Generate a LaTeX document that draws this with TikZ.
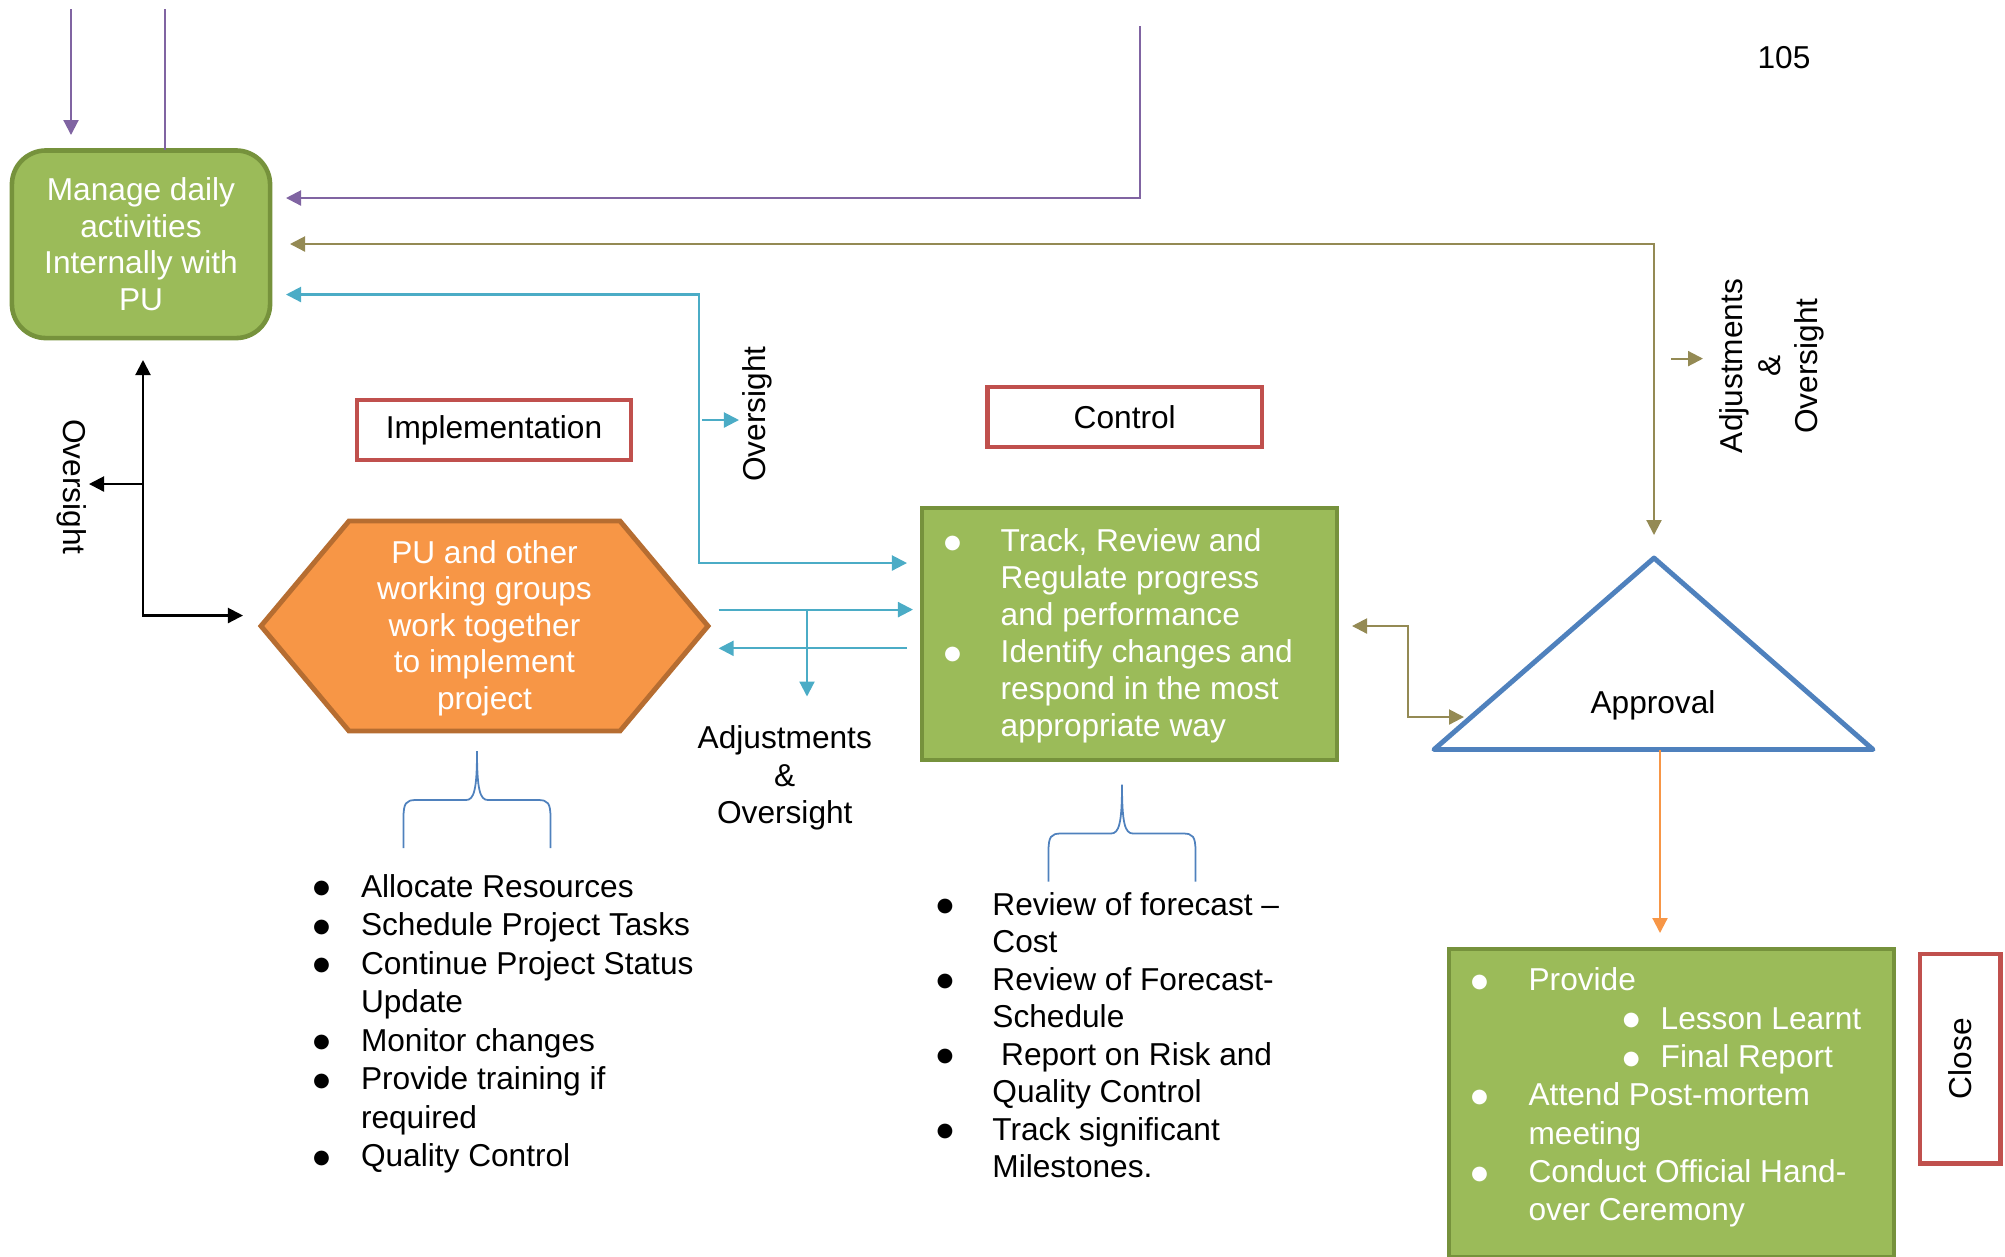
\documentclass[tikz,border=0pt]{standalone}
\usepackage{fontspec}
\setmainfont{Liberation Sans}
\newfontfamily\dotfont{DejaVu Sans}
\usetikzlibrary{arrows.meta}

\definecolor{gfill}{HTML}{9BBB59}
\definecolor{gline}{HTML}{76923C}
\definecolor{ofill}{HTML}{F79646}
\definecolor{oline}{HTML}{B66D31}
\definecolor{rline}{HTML}{C0504D}
\definecolor{bline}{HTML}{4F81BD}
\definecolor{cyanline}{HTML}{4BACC6}
\definecolor{purpline}{HTML}{8064A2}
\definecolor{oliveline}{HTML}{948A54}

% bullet hung to the left of the text column
\newlength\bulgap
\newcommand\bigdot{\raisebox{0.9pt}{\dotfont\fontsize{5.5}{5.5}\selectfont ●}}
\newcommand\lbul{\llap{\makebox[\bulgap][l]{\bigdot}}}
\newcommand\fsz[1]{\fontsize{9}{#1}\selectfont}

\begin{document}
\begin{tikzpicture}[x=0.01cm,y=-0.01cm,
  every node/.style={inner sep=0pt, outer sep=0pt},
  font=\fsz{10.4pt},
  >={Triangle[length=0.15cm,width=0.15cm]},
  conn/.style={line width=0.6pt},
  purp/.style={conn, draw=purpline},
  oliv/.style={conn, draw=oliveline},
  cyn/.style={conn, draw=cyanline},
  blk/.style={conn, draw=black},
  orng/.style={conn, draw=ofill},
  greenbox/.style={draw=gline, fill=gfill, line width=1.3pt, text=white},
  redbox/.style={draw=rline, fill=white, line width=1.3pt},
  hexshape/.style={draw=oline, fill=ofill, line width=1.4pt, line join=miter},
  tri/.style={draw=bline, line width=1.4pt, line join=round},
  listtext/.style={anchor=base west},
  curlybrace/.pic={
    \draw[bline, line width=0.5pt]
      (-73.5,97) -- (-73.5,67) .. controls (-73.5,52) and (-71,49) .. (-61,49)
      -- (-11,49) .. controls (-3,49) and (0,39) .. (0,0)
      .. controls (0,39) and (3,49) .. (11,49)
      -- (61,49) .. controls (71,49) and (73.5,52) .. (73.5,67) -- (73.5,97);
  }
]
\useasboundingbox (0,0) rectangle (2005,1256);

% ---------- shapes ----------
\node[greenbox, rounded corners=0.34cm, minimum width=2.58cm, minimum height=1.875cm, align=center]
  (manage) at (141,244.25) {Manage daily\\activities\\Internally with\\PU};

\node[redbox, minimum width=2.74cm, minimum height=0.60cm] (impl) at (494,430) {Implementation};
\node[redbox, minimum width=2.74cm, minimum height=0.60cm] (ctrl) at (1124.75,417) {Control};

\draw[hexshape] (261,626) -- (349,521) -- (620,521) -- (708,626) -- (620,731) -- (349,731) -- cycle;
\node[text=white, align=center] (hex) at (484.5,628) {PU and other\\working groups\\work together\\to implement\\project};

\node[greenbox, minimum width=4.15cm, minimum height=2.52cm] (track) at (1129.5,634) {};
\node[listtext, text=white, font=\fsz{10.5pt}] (tracktext) at (1000.7,551.7) {\setlength\bulgap{0.565cm}%
  \begin{tabular}[t]{@{}l@{}}
  \lbul Track, Review and\\
  Regulate progress\\
  and performance\\
  \lbul Identify changes and\\
  respond in the most\\
  appropriate way
  \end{tabular}};

\draw[tri] (1654,558) -- (1873,749.5) -- (1434,749.5) -- cycle;
\coordinate (apex) at (1654,558);
\coordinate (base) at (1660,749.5);
\node[anchor=base] (appr) at (1653,713) {Approval};

\node[greenbox, minimum width=4.45cm, minimum height=3.08cm] (final) at (1671.5,1103) {};
\node[listtext, text=white, font=\fsz{10.9pt}] (finaltext) at (1528.6,990.7) {\setlength\bulgap{0.574cm}%
  \begin{tabular}[t]{@{}l@{}}
  \lbul Provide\\
  \hspace*{1.32cm}{\setlength\bulgap{0.378cm}\lbul}Lesson Learnt\\
  \hspace*{1.32cm}{\setlength\bulgap{0.378cm}\lbul}Final Report\\
  \lbul Attend Post-mortem\\
  meeting\\
  \lbul Conduct Official Hand-\\
  over Ceremony
  \end{tabular}};

\node[redbox, rotate=90, minimum width=2.095cm, minimum height=0.805cm] (close) at (1960.25,1058.75) {Close};

\node[anchor=base] (page) at (1784,68.4) {105};

% ---------- lists under the braces ----------
\pic at (477,751) {curlybrace};
\node[listtext, font=\fsz{10.95pt}] (impllist) at (361,897) {\setlength\bulgap{0.478cm}%
  \begin{tabular}[t]{@{}l@{}}
  \lbul Allocate Resources\\
  \lbul Schedule Project Tasks\\
  \lbul Continue Project Status\\
  Update\\
  \lbul Monitor changes\\
  \lbul Provide training if\\
  required\\
  \lbul Quality Control
  \end{tabular}};

\pic at (1122,784.5) {curlybrace};
\node[listtext, font=\fsz{10.67pt}] (ctrllist) at (992.4,915) {\setlength\bulgap{0.558cm}%
  \begin{tabular}[t]{@{}l@{}}
  \lbul Review of forecast --\\
  Cost\\
  \lbul Review of Forecast-\\
  Schedule\\
  \lbul \ Report on Risk and\\
  Quality Control\\
  \lbul Track significant\\
  Milestones.
  \end{tabular}};

% ---------- connector labels ----------
\node[rotate=-90] (ovleft) at (72,487) {Oversight};
\node[rotate=90] (ovmid) at (757,414) {Oversight};
\node[rotate=90, align=center, font=\fsz{10.67pt}] (adjright) at (1772,366) {Adjustments\\\&\\Oversight};
\node[anchor=base, font=\fsz{10.7pt}] (adjmid) at (784.8,748.6)
  {\begin{tabular}[t]{@{}c@{}}Adjustments\\\&\\Oversight\end{tabular}};

% ---------- connectors ----------
% purple
\coordinate (p1a) at (71,9);   \coordinate (p1b) at (71,135);
\draw[purp,->] (p1a) -- (p1b);
\coordinate (p2a) at (165,9);
\draw[purp] (p2a) -- (p2a |- manage.north);
\coordinate (p3a) at (1140,26); \coordinate (p3b) at (286,198);
\draw[purp,->] (p3a) |- (p3b);

% olive
\coordinate (o1a) at (290,244); \coordinate (o1b) at (1654,535);
\draw[oliv,<->] (o1a) -| (o1b);
\coordinate (o2a) at (1671,358.6); \coordinate (o2b) at (1703,358.6);
\draw[oliv,->] (o2a) -- (o2b);
\coordinate (o3a) at (1352,626); \coordinate (o3b) at (1464,717);
\draw[oliv,<->] (o3a) -- ++(56,0) |- (o3b);

% cyan
\coordinate (c1a) at (286,294.5); \coordinate (c1b) at (907,563);
\draw[cyn,<->] (c1a) -- ++(413,0) |- (c1b);
\coordinate (c2a) at (702,420); \coordinate (c2b) at (739,420);
\draw[cyn,->] (c2a) -- (c2b);
\coordinate (c3a) at (718.6,609.6); \coordinate (c3b) at (913,609.6);
\draw[cyn,->] (c3a) -- (c3b);
\coordinate (c4a) at (907,648.3); \coordinate (c4b) at (718.6,648.3);
\draw[cyn,->] (c4a) -- (c4b);
\coordinate (c5a) at (807,609.6); \coordinate (c5b) at (807,696.5);
\draw[cyn,->] (c5a) -- (c5b);

% black
\coordinate (b1a) at (143,360); \coordinate (b1b) at (243,615.5);
\draw[blk,<->] (b1a) |- (b1b);
\coordinate (b2a) at (143,484); \coordinate (b2b) at (89,484);
\draw[blk,->] (b2a) -- (b2b);

% orange
\coordinate (r1b) at (1660,933);
\draw[orng,->] (base) -- (r1b);
\end{tikzpicture}
\end{document}
